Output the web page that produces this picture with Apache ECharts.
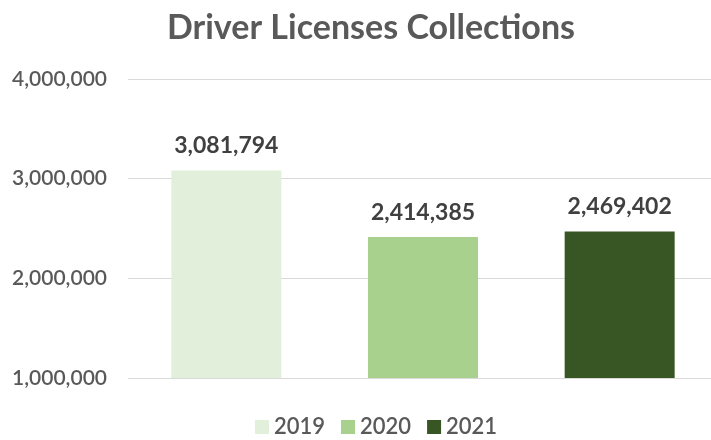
<!DOCTYPE html>
<html>
<head>
<meta charset="utf-8">
<script src="https://cdn.jsdelivr.net/npm/echarts@6/dist/echarts.min.js"></script>
<style>
html, body { margin: 0; padding: 0; background: #fff; }
#chart1 { width: 711px; height: 440px; }
</style>
</head>
<body>
<div id="chart1"></div>
<script>
var years = ['2019', '2020', '2021'];
var collections = [3081794, 2414385, 2469402];
var barColors = ['#E2EFDA', '#A9D18E', '#375623'];
var yTicks = [1000000, 2000000, 3000000, 4000000];

var myChart = echarts.init(document.getElementById('chart1'));

function fmt(v) {
	return v.toString().replace(/\B(?=(\d{3})+(?!\d))/g, ',');
}

// one series per year so each gets its own legend entry
var series = years.map(function (y, i) {
	var d = years.map(function (_, j) { return j === i ? collections[i] : '-'; });
	return {
		name: y,
		type: 'bar',
		data: d,
		barWidth: 110,
		barGap: '-100%',
		itemStyle: { color: barColors[i] },
		label: {
			show: true,
			position: 'top',
			distance: 13,
			color: '#404040',
			fontFamily: 'Lato',
			fontWeight: 'bold',
			fontSize: 23,
			formatter: function (p) { return fmt(p.value); }
		}
	};
});

var option = {
	animation: false,
	title: {
		text: 'Driver Licenses Collections',
		left: 366,
		top: 6,
		textAlign: 'center',
		textStyle: {
			color: '#595959',
			fontFamily: 'Lato',
			fontWeight: 'bold',
			fontSize: 34
		}
	},
	legend: {
		data: years,
		left: 250,
		top: 411,
		icon: 'rect',
		itemWidth: 14,
		itemHeight: 14,
		itemGap: 16,
		textStyle: {
			color: '#595959',
			fontFamily: 'Lato',
			fontWeight: 600,
			fontSize: 22
		}
	},
	grid: {
		left: 128,
		width: 590,
		top: 79,
		bottom: 62,
		outerBoundsMode: 'none'
	},
	xAxis: {
		type: 'category',
		data: years,
		axisLine: { show: false },
		axisTick: { show: false },
		axisLabel: { show: false }
	},
	yAxis: {
		type: 'value',
		min: yTicks[0],
		max: yTicks[yTicks.length - 1],
		interval: yTicks[1] - yTicks[0],
		axisLine: { show: false },
		axisTick: { show: false },
		axisLabel: {
			margin: 21,
			color: '#595959',
			fontFamily: 'Lato',
			fontWeight: 600,
			fontSize: 21,
			formatter: fmt
		},
		splitLine: { lineStyle: { color: '#D9D9D9', width: 1 } }
	},
	series: series
};
myChart.setOption(option);
</script>
</body>
</html>
